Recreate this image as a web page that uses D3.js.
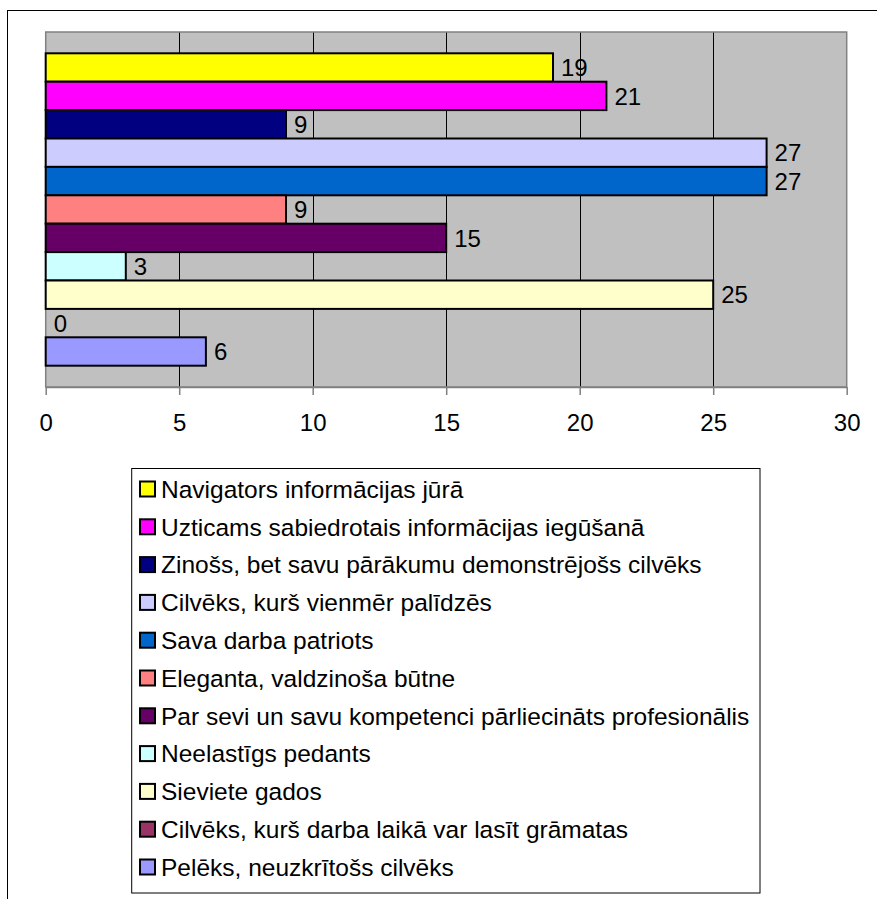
<!DOCTYPE html>
<html>
<head>
<meta charset="utf-8">
<script src="https://cdn.jsdelivr.net/npm/d3@7"></script>
<style>
  body { margin: 0; background: #fff; }
  text { font-family: "Liberation Sans", Arial, sans-serif; fill: #000; }
</style>
</head>
<body>
<div id="chart"></div>
<script>
// series, top to bottom as drawn
var seriesNames = [
  "Navigators informācijas jūrā",
  "Uzticams sabiedrotais informācijas iegūšanā",
  "Zinošs, bet savu pārākumu demonstrējošs cilvēks",
  "Cilvēks, kurš vienmēr palīdzēs",
  "Sava darba patriots",
  "Eleganta, valdzinoša būtne",
  "Par sevi un savu kompetenci pārliecināts profesionālis",
  "Neelastīgs pedants",
  "Sieviete gados",
  "Cilvēks, kurš darba laikā var lasīt grāmatas",
  "Pelēks, neuzkrītošs cilvēks"
];
var seriesValues = [19, 21, 9, 27, 27, 9, 15, 3, 25, 0, 6];
var seriesColors = ["#FFFF00", "#FF00FF", "#000080", "#CCCCFF", "#0066CC",
  "#FF8080", "#660066", "#CCFFFF", "#FFFFCC", "#993366", "#9999FF"];
var xTicks = [0, 5, 10, 15, 20, 25, 30];

var W = 877, H = 899;
var plot = { left: 45.7, top: 32, right: 846.7, bottom: 387 };

var data = seriesNames.map(function (name, i) {
  return { name: name, value: seriesValues[i], color: seriesColors[i] };
});

var svg = d3.select("#chart").append("svg")
  .attr("width", W)
  .attr("height", H);

// outer chart border (runs off the right and bottom of the picture)
svg.append("rect")
  .attr("x", 7.5).attr("y", 10.5)
  .attr("width", 1000).attr("height", 1000)
  .attr("fill", "#fff")
  .attr("stroke", "#000")
  .attr("stroke-width", 1);

var x = d3.scaleLinear()
  .domain([0, 30])
  .range([plot.left, plot.right]);

var y = d3.scaleBand()
  .domain(seriesNames)
  .range([plot.top, plot.bottom])
  .paddingInner(0)
  .paddingOuter(0.75);

// plot background
svg.append("rect")
  .attr("x", plot.left).attr("y", plot.top)
  .attr("width", plot.right - plot.left)
  .attr("height", plot.bottom - plot.top)
  .attr("fill", "#C0C0C0");

// gridlines
svg.append("g").selectAll("line")
  .data(xTicks.slice(1, -1))
  .enter().append("line")
  .attr("x1", function (d) { return Math.round(x(d)) + 0.5; })
  .attr("x2", function (d) { return Math.round(x(d)) + 0.5; })
  .attr("y1", plot.top)
  .attr("y2", plot.bottom)
  .attr("stroke", "#000")
  .attr("stroke-width", 1);

// plot border
svg.append("rect")
  .attr("x", plot.left).attr("y", plot.top)
  .attr("width", plot.right - plot.left)
  .attr("height", plot.bottom - plot.top)
  .attr("fill", "none")
  .attr("stroke", "#808080")
  .attr("stroke-width", 1.5);

// bars
svg.append("g").selectAll("rect")
  .data(data.filter(function (d) { return d.value > 0; }))
  .enter().append("rect")
  .attr("x", x(0))
  .attr("y", function (d) { return y(d.name); })
  .attr("width", function (d) { return x(d.value) - x(0); })
  .attr("height", y.bandwidth())
  .attr("fill", function (d) { return d.color; })
  .attr("stroke", "#000")
  .attr("stroke-width", 2);

// value labels
svg.append("g").selectAll("text")
  .data(data)
  .enter().append("text")
  .attr("x", function (d) { return x(d.value) + 8; })
  .attr("y", function (d) { return y(d.name) + y.bandwidth() / 2; })
  .attr("dy", "0.36em")
  .style("font-size", "24px")
  .text(function (d) { return d.value; });

// x axis
var xAxis = d3.axisBottom(x)
  .tickValues(xTicks)
  .tickSize(8)
  .tickPadding(19)
  .tickSizeOuter(0);

var ax = svg.append("g")
  .attr("transform", "translate(0," + plot.bottom + ")")
  .call(xAxis);
ax.select(".domain").attr("stroke", "#808080").attr("stroke-width", 1.5);
ax.selectAll(".tick line").attr("stroke", "#808080").attr("stroke-width", 1.5);
ax.selectAll(".tick text")
  .style("font-size", "24px")
  .style("font-family", "'Liberation Sans', Arial, sans-serif")
  .attr("fill", "#000");

// legend
var legend = { left: 131.7, top: 468.5, right: 760, bottom: 893 };
var legendFirst = 489, legendStep = 37.8;

svg.append("rect")
  .attr("x", legend.left).attr("y", legend.top)
  .attr("width", legend.right - legend.left)
  .attr("height", legend.bottom - legend.top)
  .attr("fill", "#fff")
  .attr("stroke", "#000")
  .attr("stroke-width", 1);

var item = svg.append("g").selectAll("g")
  .data(data)
  .enter().append("g")
  .attr("transform", function (d, i) {
    return "translate(0," + (legendFirst + i * legendStep) + ")";
  });

item.append("rect")
  .attr("x", 140).attr("y", -7.5)
  .attr("width", 15).attr("height", 15)
  .attr("fill", function (d) { return d.color; })
  .attr("stroke", "#000")
  .attr("stroke-width", 2);

item.append("text")
  .attr("x", 161)
  .attr("dy", "0.36em")
  .style("font-size", "24.5px")
  .text(function (d) { return d.name; });
</script>
</body>
</html>
